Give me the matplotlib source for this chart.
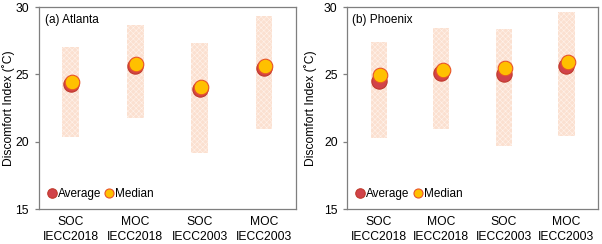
import numpy as np
import matplotlib.pyplot as plt

plt.rcParams['font.family'] = ['Liberation Sans', 'DejaVu Sans']
plt.rcParams['hatch.linewidth'] = 0.4

cats = ['SOC\nIECC2018', 'MOC\nIECC2018', 'SOC\nIECC2003', 'MOC\nIECC2003']

# Atlanta
atl_low = [20.35, 21.75, 19.15, 20.95]
atl_high = [27.0, 28.7, 27.3, 29.35]
atl_avg = [24.3, 25.6, 23.95, 25.5]
atl_med = [24.45, 25.8, 24.1, 25.65]

# Phoenix
phx_low = [20.25, 20.95, 19.65, 20.45]
phx_high = [27.4, 28.45, 28.4, 29.6]
phx_avg = [24.5, 25.1, 25.0, 25.65]
phx_med = [24.95, 25.3, 25.45, 25.95]

fig = plt.figure(figsize=(6.02, 2.44), dpi=100)
ax1 = fig.add_axes([0.064, 0.143, 0.428, 0.828])
ax2 = fig.add_axes([0.577, 0.143, 0.416, 0.828])

def panel(ax, low, high, avg, med, title, labx, tx):
    x = np.arange(len(cats))
    ax.bar(x, np.array(high) - np.array(low), bottom=low, width=0.26,
           color='#fbe0d0', edgecolor='#fff3ec', hatch='xxxxxx', linewidth=0, zorder=1)
    ax.plot(x, avg, 'o', ms=11, color='#d1434a', mec='#c0392b', mew=0.8,
            ls='none', label='Average', zorder=3)
    ax.plot(x + 0.02, med, 'o', ms=10.5, color='#ffc000', mec='#e8542a', mew=0.8,
            ls='none', label='Median', zorder=4)
    ax.set_xlim(-0.5, 3.5)
    ax.set_ylim(15, 30)
    ax.set_yticks([15, 20, 25, 30])
    ax.set_xticks(x)
    ax.set_xticklabels(cats, fontsize=8.7, linespacing=1.35)
    ax.tick_params(axis='x', length=0, pad=5)
    ax.tick_params(axis='y', labelsize=8.7, length=3, width=0.9, color='#7f7f7f',
                   direction='out', pad=4)
    for s in ax.spines.values():
        s.set_color('#7f7f7f')
        s.set_linewidth(0.9)
    ax.set_ylabel('Discomfort Index (\u02daC)', fontsize=8.7)
    ax.yaxis.set_label_coords(labx, 0.5)
    ax.text(tx, 0.935, title, transform=ax.transAxes, fontsize=8.5, va='center')
    ax.legend(loc='lower left', frameon=False, fontsize=8.5, handletextpad=0.0,
              borderaxespad=0.0, columnspacing=0.2, ncol=2, markerscale=0.62,
              handlelength=1.0, bbox_to_anchor=(0.01, 0.02))

panel(ax1, atl_low, atl_high, atl_avg, atl_med, '(a) Atlanta', -0.093, 0.025)
panel(ax2, phx_low, phx_high, phx_avg, phx_med, '(b) Phoenix', -0.12, 0.02)

fig.savefig('out.png', dpi=100)
